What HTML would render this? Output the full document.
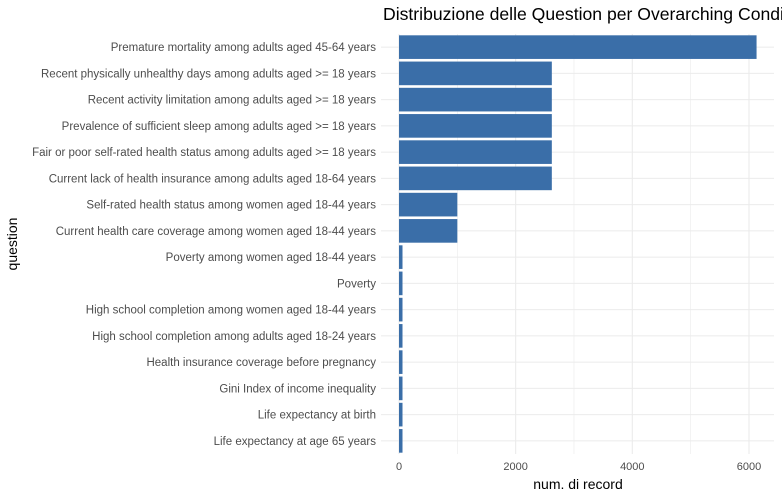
<!DOCTYPE html>
<html><head><meta charset="utf-8"><style>
body{margin:0;background:#fff;width:782px;height:498px;overflow:hidden}
svg{display:block;font-family:"Liberation Sans",sans-serif}
</style></head><body>
<svg id="chart" width="782" height="498">
<text x="383" y="20" font-size="17.6" fill="#000">Distribuzione delle Question per Overarching Condition</text>
<g id="grid"></g><g id="bars"></g><g id="ylab"></g><g id="xlab"></g>
<text x="578" y="489" font-size="14" text-anchor="middle" fill="#000">num. di record</text>
<text transform="translate(17,244) rotate(-90)" font-size="14" text-anchor="middle" fill="#000">question</text>
</svg>
<script>
const categories=["Premature mortality among adults aged 45-64 years","Recent physically unhealthy days among adults aged >= 18 years","Recent activity limitation among adults aged >= 18 years","Prevalence of sufficient sleep among adults aged >= 18 years","Fair or poor self-rated health status among adults aged >= 18 years","Current lack of health insurance among adults aged 18-64 years","Self-rated health status among women aged 18-44 years","Current health care coverage among women aged 18-44 years","Poverty among women aged 18-44 years","Poverty","High school completion among women aged 18-44 years","High school completion among adults aged 18-24 years","Health insurance coverage before pregnancy","Gini Index of income inequality","Life expectancy at birth","Life expectancy at age 65 years"];
const values=[6130,2620,2620,2620,2620,2620,1000,1000,60,60,60,60,60,60,60,60];
const xTicks=[0,2000,4000,6000];
const NS="http://www.w3.org/2000/svg";
const x0=399,pxPer=0.05833,pTop=34,pBottom=454,pLeft=381,pRight=774;
const band=(pBottom-pTop)/categories.length;
const xs=v=>x0+v*pxPer;
const yc=i=>pTop+band*(i+0.5);
function mk(t,a,p){const e=document.createElementNS(NS,t);for(const k in a)e.setAttribute(k,a[k]);document.getElementById(p).appendChild(e);return e;}
for(let v=0;v<=6000;v+=1000){const l=mk('line',{x1:xs(v),x2:xs(v),y1:pTop,y2:pBottom,stroke:'#ebebeb','stroke-width':v%2000?0.6:1.1},'grid');

}
categories.forEach((c,i)=>{const l=mk('line',{x1:pLeft,x2:pRight,y1:yc(i),y2:yc(i),stroke:'#ebebeb','stroke-width':1.1},'grid');


const r=mk('rect',{x:xs(0),y:yc(i)-band*0.45,width:xs(values[i])-xs(0),height:band*0.9,fill:'#3a6ea8'},'bars');


const t=mk('text',{x:376,y:yc(i)+4,'font-size':11.5,'text-anchor':'end',fill:'#4d4d4d'},'ylab');t.textContent=c;

});
xTicks.forEach(v=>{const t=mk('text',{x:xs(v),y:470,'font-size':11,'text-anchor':'middle',fill:'#4d4d4d'},'xlab');t.textContent=v;

});
</script>
</body></html>
